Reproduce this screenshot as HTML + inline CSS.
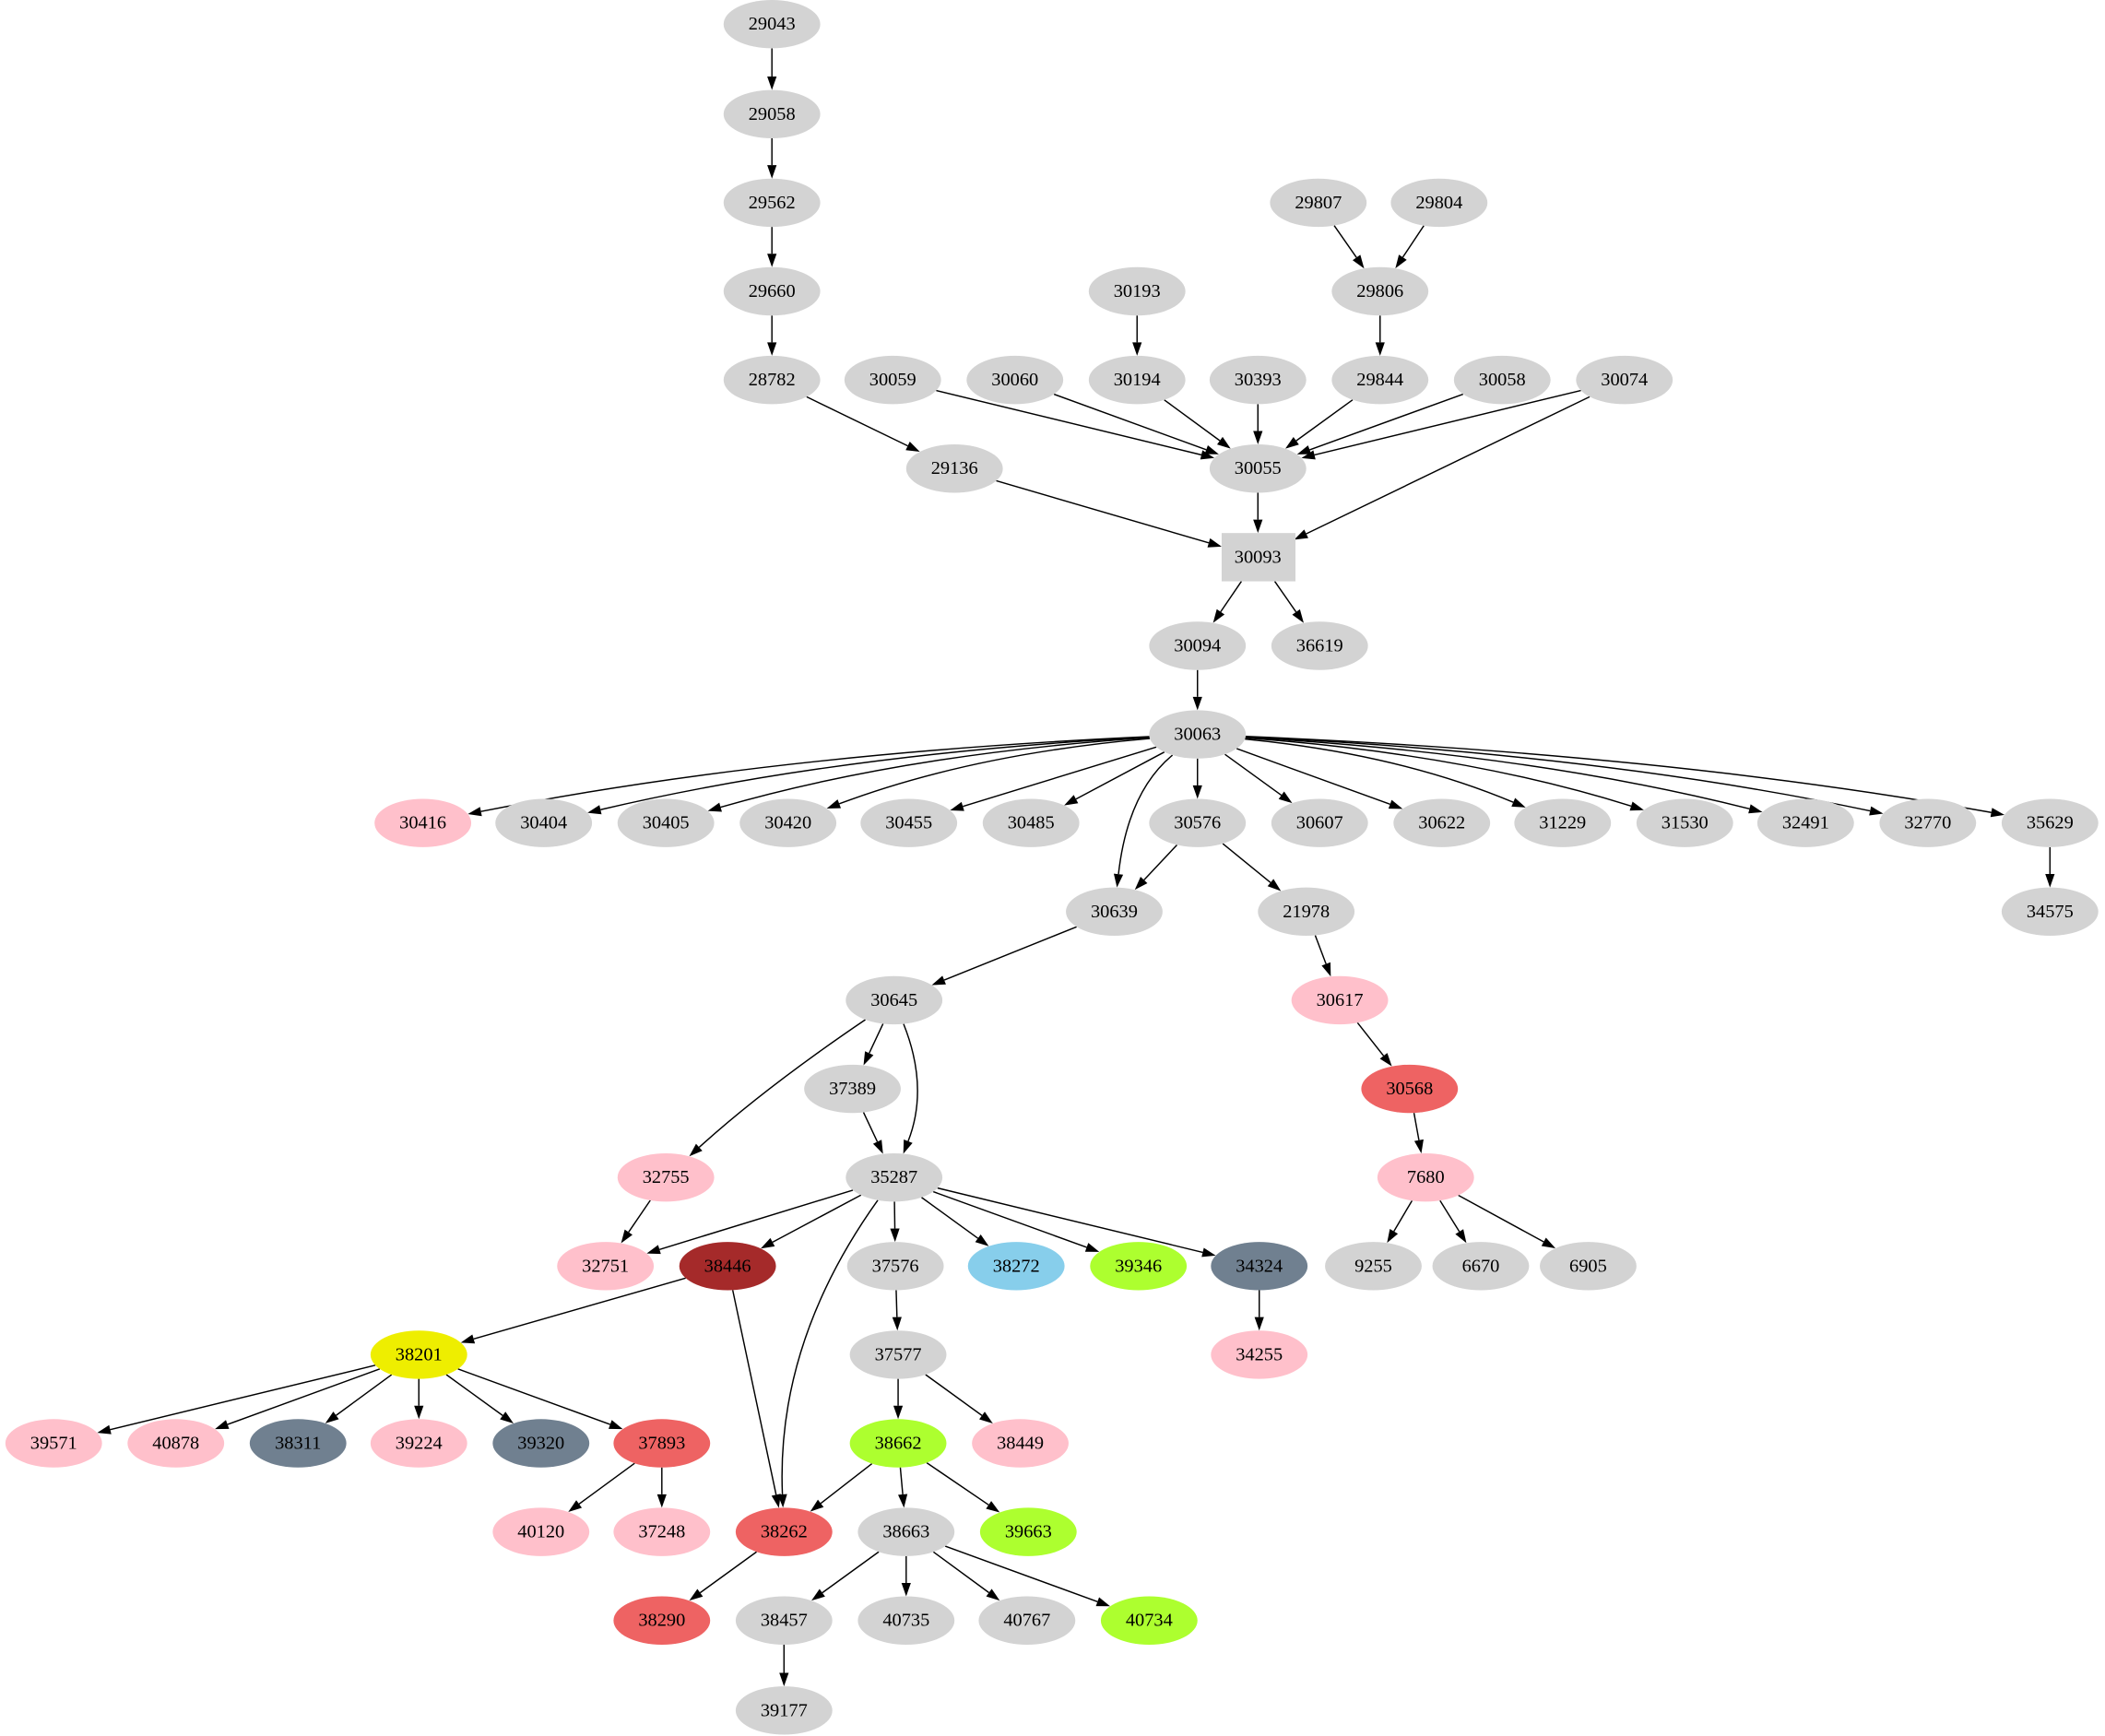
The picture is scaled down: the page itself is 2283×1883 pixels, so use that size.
<!DOCTYPE html>
<html><head><meta charset="utf-8"><style>
html,body{margin:0;padding:0;background:#fff;}
svg{display:block}
text{font-family:"Liberation Serif",serif;font-size:14px;text-anchor:middle;dominant-baseline:central;fill:#000}
</style></head><body>
<svg id="g" width="2283" height="1883" viewBox="0 0 1568 1293" preserveAspectRatio="none" xmlns="http://www.w3.org/2000/svg"></svg>
<script>
var P='#ffc0cb',G='#d3d3d3',R='#ee6363',B='#a52a2a',Y='#eeee00',S='#87ceeb',L='#adff2f',T='#708090';
var N={};
function n(id,x,y,c){N[id]={x:x,y:y,c:c||G};}
n('29043',575,18);n('29058',575,85);n('29562',575,151);n('29660',575,217);n('28782',575,283);
n('29807',982,151);n('29804',1072,151);n('29806',1028,217);n('30193',847,217);
n('30059',665,283);n('30060',756,283);n('30194',847,283);n('30393',937,283);n('29844',1028,283);n('30058',1119,283);n('30074',1210,283);
n('29136',711,349);n('30055',937,349);n('30093',937,415);
n('30094',892,481);n('36619',983,481);n('30063',892,547);
var r6=[['30416',315,P],['30404',405],['30405',496],['30420',587],['30455',677],['30485',768],['30576',892],['30607',983],['30622',1074],['31229',1164],['31530',1255],['32491',1345],['32770',1436],['35629',1527]];
r6.forEach(function(a){n(a[0],a[1],613,a[2]);});
n('30639',830,679);n('21978',973,679);n('34575',1527,679);
n('30645',666,745);n('30617',998,745,P);
n('37389',635,811);n('30568',1050,811,R);
n('32755',496,877,P);n('35287',666,877);n('7680',1062,877,P);
n('32751',451,943,P);n('38446',542,943,B);n('37576',667,943);n('38272',757,943,S);n('39346',848,943,L);n('34324',938,943,T);n('9255',1023,943);n('6670',1103,943);n('6905',1183,943);
n('38201',312,1009,Y);n('37577',669,1009);n('34255',938,1009,P);
n('39571',40,1075,P);n('40878',131,1075,P);n('38311',222,1075,T);n('39224',312,1075,P);n('39320',403,1075,T);n('37893',493,1075,R);n('38662',669,1075,L);n('38449',760,1075,P);
n('40120',403,1141,P);n('37248',493,1141,P);n('38262',584,1141,R);n('38663',675,1141);n('39663',766,1141,L);
n('38290',493,1207,R);n('38457',584,1207);n('40735',675,1207);n('40767',765,1207);n('40734',856,1207,L);
n('39177',584,1274);
var E=[['29043','29058'],['29058','29562'],['29562','29660'],['29660','28782'],['28782','29136'],['29807','29806'],['29804','29806'],['29806','29844'],['30193','30194'],
['30059','30055'],['30060','30055'],['30194','30055'],['30393','30055'],['29844','30055'],['30058','30055'],['30074','30055'],['30074','30093'],['29136','30093'],['30055','30093'],
['30093','30094'],['30093','36619'],['30094','30063'],
['30063','30639',[840,590]],['30576','30639'],['30576','21978'],['35629','34575'],['30639','30645'],['21978','30617'],['30617','30568'],['30568','7680'],
['7680','9255'],['7680','6670'],['7680','6905'],['30645','37389'],['30645','35287',[692,810]],['30645','32755',[570,810]],['37389','35287'],['32755','32751'],
['35287','32751'],['35287','38446'],['35287','37576'],['35287','38272'],['35287','39346'],['35287','34324'],['35287','38262',[578,1000]],
['38446','38201'],['38446','38262'],['37576','37577'],['34324','34255'],['37577','38662'],['37577','38449'],
['38201','39571'],['38201','40878'],['38201','38311'],['38201','39224'],['38201','39320'],['38201','37893'],['37893','40120'],['37893','37248'],
['38662','38262'],['38662','38663'],['38662','39663'],['38262','38290'],['38663','38457'],['38663','40735'],['38663','40767'],['38663','40734'],['38457','39177']];
r6.forEach(function(a){if(a[0]!=='30063'){var dx=a[1]-892;var c=Math.abs(dx)>250?[892+dx*0.55,547+66*0.22]:null;E.push(['30063',a[0],c]);}});
function clip(nd,dx,dy){var t;if(nd===N['30093']){t=Math.min(27/Math.abs(dx||1e-9),18/Math.abs(dy||1e-9));}else{t=1/Math.sqrt((dx/36)*(dx/36)+(dy/18)*(dy/18));}return [nd.x+dx*t,nd.y+dy*t];}
var s='';
E.forEach(function(e){var a=N[e[0]],b=N[e[1]];var c=e[2]||[(a.x+b.x)/2,(a.y+b.y)/2];
var p0=clip(a,c[0]-a.x,c[1]-a.y),p1=clip(b,c[0]-b.x,c[1]-b.y);
var dx=p1[0]-c[0],dy=p1[1]-c[1];if(!e[2]){dx=p1[0]-p0[0];dy=p1[1]-p0[1];}
var l=Math.sqrt(dx*dx+dy*dy);dx/=l;dy/=l;var q=[p1[0]-10*dx,p1[1]-10*dy];
if(e[2])s+='<path d="M'+p0[0]+','+p0[1]+' Q'+c[0]+','+c[1]+' '+q[0]+','+q[1]+'" fill="none" stroke="#000" stroke-width="1"/>';
else s+='<line x1="'+p0[0]+'" y1="'+p0[1]+'" x2="'+q[0]+'" y2="'+q[1]+'" stroke="#000" stroke-width="1"/>';
s+='<polygon points="'+p1[0]+','+p1[1]+' '+(q[0]-3.5*dy)+','+(q[1]+3.5*dx)+' '+(q[0]+3.5*dy)+','+(q[1]-3.5*dx)+'" fill="#000"/>';});
for(var k in N){var d=N[k];if(k==='30093')s+='<rect x="910" y="397" width="55" height="36" fill="'+G+'"/>';else s+='<ellipse cx="'+d.x+'" cy="'+d.y+'" rx="36" ry="18" fill="'+d.c+'"/>';
s+='<text x="'+d.x+'" y="'+d.y+'">'+k+'</text>';}
document.getElementById('g').innerHTML=s;
</script>
</body></html>
